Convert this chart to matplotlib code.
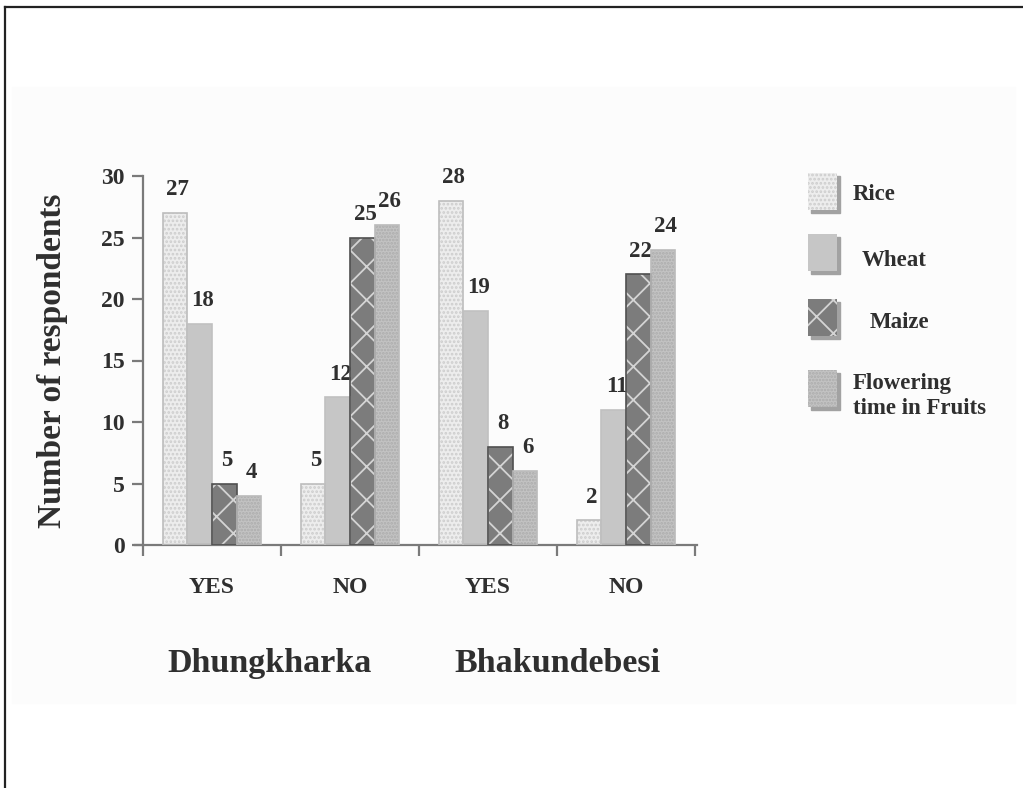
import matplotlib.pyplot as plt
from matplotlib.patches import Rectangle
from matplotlib.lines import Line2D
import numpy as np

plt.rcParams['font.family'] = ['Liberation Serif', 'DejaVu Serif']
plt.rcParams['font.weight'] = 'bold'
plt.rcParams['hatch.linewidth'] = 1.3

# data
groups = ['YES', 'NO', 'YES', 'NO']
sites = ['Dhungkharka', 'Bhakundebesi']
crops = ['Rice', 'Wheat', 'Maize', 'Flowering\ntime in Fruits']
rice = [27, 5, 28, 2]
wheat = [18, 12, 19, 11]
maize = [5, 25, 8, 22]
fruits = [4, 26, 6, 24]

# face colour, hatch, hatch colour, outline colour
styles = [
    ('#ededed', '....', '#cdcdcd', '#bdbdbd'),
    ('#c6c6c6', '', '#c6c6c6', '#c0c0c0'),
    ('#7c7c7c', 'x', '#d4d4d4', '#505050'),
    ('#c3c3c3', '.....', '#acacac', '#bbbbbb'),
]
txt = '#2f2f2f'
axis_col = '#7a7a7a'

W, H = 1023, 788
fig = plt.figure(figsize=(W / 100, H / 100), dpi=100)

# page frame and faint panel
fig.patches.append(Rectangle((12 / W, 1 - 703 / H), 1003 / W, 616 / H,
                             transform=fig.transFigure, color='#fcfcfc', zorder=-10))
fig.add_artist(Line2D([5 / W, 1], [1 - 7 / H] * 2, color='#222222', lw=1.6))
fig.add_artist(Line2D([5 / W] * 2, [0, 1 - 7 / H], color='#222222', lw=1.6))

ax = fig.add_axes([135 / W, 1 - 545 / H, (697 - 135) / W, (545 - 176) / H])
ax.set_facecolor('none')

x = np.arange(len(groups))
width = 0.178
series = [rice, wheat, maize, fruits]
for i, (vals, st) in enumerate(zip(series, styles)):
    pos = x + (i - 1.5) * width
    face, hatch, hcol, ecol = st
    ax.bar(pos, vals, width, color=face, hatch=hatch, edgecolor=hcol, linewidth=0, zorder=2)
    ax.bar(pos, vals, width, fill=False, edgecolor=ecol, linewidth=1.2, zorder=3)
    for p, v in zip(pos, vals):
        ax.text(p + 0.02, v + 1.9, str(v), ha='center', va='center',
                fontsize=16.5, color=txt, fontweight='bold')

ax.set_xlim(-0.558, 3.515)
ax.set_ylim(0, 30)
ax.set_yticks(range(0, 31, 5))
ax.spines[['top', 'right']].set_visible(False)
ax.spines['left'].set_position(('data', -0.5))
for s in ['left', 'bottom']:
    ax.spines[s].set_color(axis_col)
    ax.spines[s].set_linewidth(1.6)

ax.set_xticks(np.arange(-0.5, 4, 1))
ax.set_xticklabels([])
ax.set_xticks(x, groups, minor=True)
ax.tick_params(axis='x', which='major', length=8, width=1.6, color=axis_col, direction='out')
ax.tick_params(axis='x', which='minor', length=0, pad=23, labelsize=17, labelcolor=txt)
ax.tick_params(axis='y', length=8, width=1.6, color=axis_col, pad=5, labelsize=17, labelcolor=txt)

ax.set_ylabel('Number of respondents', fontsize=24, color=txt, fontweight='bold', labelpad=24)

site_x = [0.42, 2.5]
for sx, name in zip(site_x, sites):
    ax.text(sx, -0.32, name, transform=ax.get_xaxis_transform(),
            ha='center', va='center', fontsize=24.5, color=txt, fontweight='bold')

# legend built by hand: boxes with drop shadow
box_top = [173, 234, 299, 370]
label_x = [853, 862, 870, 853]
label_y = [195, 260, 323, 396]
bw, bh = 29, 37
for (face, hatch, hcol, ecol), top, lx, ly, name in zip(styles, box_top, label_x, label_y, crops):
    fig.patches.append(Rectangle(((808 + 3) / W, 1 - (top + 3 + bh) / H), bw / W, bh / H,
                                 transform=fig.transFigure, color='#a2a2a2', zorder=1))
    fig.patches.append(Rectangle((808 / W, 1 - (top + bh) / H), bw / W, bh / H,
                                 transform=fig.transFigure, facecolor=face, hatch=hatch,
                                 edgecolor=hcol, linewidth=0, zorder=2))
    fig.text(lx / W, 1 - ly / H, name, ha='left', va='center',
             fontsize=16.5, color=txt, fontweight='bold', linespacing=1.3)

fig.savefig('out.png', dpi=100)
